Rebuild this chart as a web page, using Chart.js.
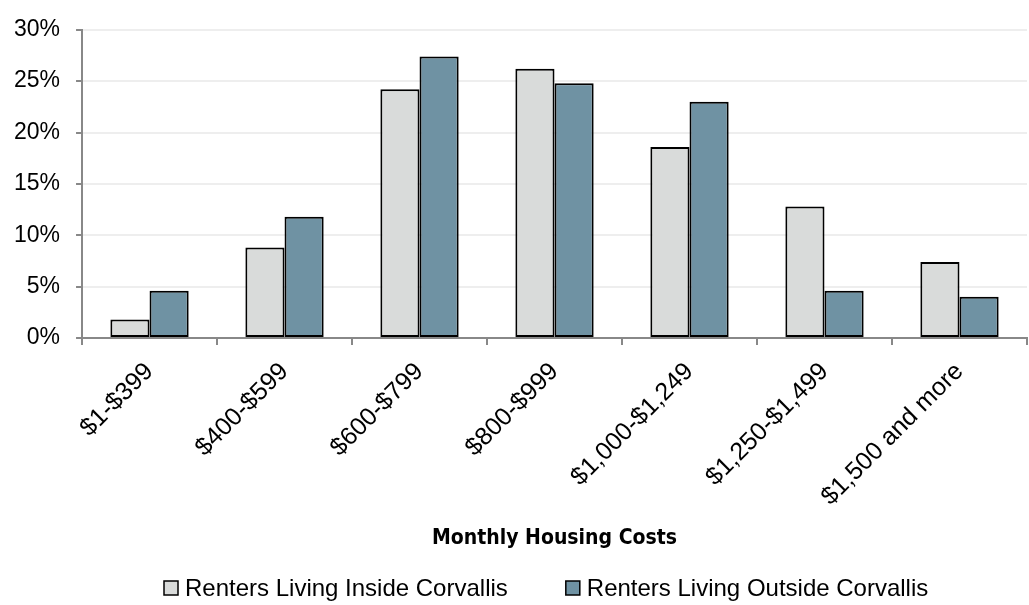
<!DOCTYPE html>
<html>
<head>
<meta charset="utf-8">
<script src="https://cdn.jsdelivr.net/npm/chart.js@4/dist/chart.umd.min.js"></script>
<style>
  html, body { margin: 0; padding: 0; background: #fff; }
  canvas { display: block; }
</style>
</head>
<body>
<canvas id="my-chart" width="1029" height="605"></canvas>
<script>
const categories = ['$1-$399', '$400-$599', '$600-$799', '$800-$999', '$1,000-$1,249', '$1,250-$1,499', '$1,500 and more']
const insideCorvallis = [1.8, 8.8, 24.2, 26.2, 18.6, 12.8, 7.4]
const outsideCorvallis = [4.6, 11.8, 27.4, 24.8, 23.0, 4.6, 4.0]
const seriesNames = ['Renters Living Inside Corvallis', 'Renters Living Outside Corvallis']
const yMin = 0
const yMax = 30
const yStep = 5
const axisTitle = 'Monthly Housing Costs'

const sansFont = '"Liberation Sans", Arial, sans-serif'
const narrowFont = '"DejaVu Sans Condensed", sans-serif'

// legend drawn by hand so the spacing matches the original (box, small gap, wide gap between items)
const bottomLegend = {
  id: 'bottomLegend',
  afterDraw(chart) {
    const ctx = chart.ctx
    ctx.save()
    ctx.font = '24px ' + sansFont
    ctx.textBaseline = 'middle'
    ctx.textAlign = 'left'
    let x = 164
    const y = 588
    chart.data.datasets.forEach((ds) => {
      ctx.fillStyle = ds.backgroundColor
      ctx.fillRect(x, y - 7, 14, 14)
      ctx.strokeStyle = '#000'
      ctx.lineWidth = 1.5
      ctx.strokeRect(x, y - 7, 14, 14)
      ctx.fillStyle = '#000'
      ctx.fillText(ds.label, x + 21, y + 1)
      x += 21 + ctx.measureText(ds.label).width + 58
    })
    ctx.restore()
  }
}

const ctx = document.getElementById('my-chart').getContext('2d')
const chart = new Chart(ctx, {
  type: 'bar',
  data: {
    labels: categories,
    datasets: [
      {
        label: seriesNames[0],
        data: insideCorvallis,
        backgroundColor: '#d9dbda',
        borderColor: '#000',
        borderWidth: 2,
        borderSkipped: false,
        categoryPercentage: 0.58,
        barPercentage: 1.0
      },
      {
        label: seriesNames[1],
        data: outsideCorvallis,
        backgroundColor: '#6f92a3',
        borderColor: '#000',
        borderWidth: 2,
        borderSkipped: false,
        categoryPercentage: 0.58,
        barPercentage: 1.0
      }
    ]
  },
  options: {
    responsive: false,
    devicePixelRatio: 1,
    animation: false,
    layout: {
      padding: { left: -2, right: 2, top: 1, bottom: 54 }
    },
    plugins: {
      legend: { display: false },
      tooltip: { enabled: false }
    },
    scales: {
      x: {
        grid: {
          display: true,
          drawOnChartArea: false,
          drawTicks: true,
          tickLength: 7,
          color: '#888',
          lineWidth: 2
        },
        border: { display: true, color: '#888', width: 2 },
        ticks: {
          color: '#000',
          font: { family: sansFont, size: 25 },
          minRotation: 45,
          maxRotation: 45,
          padding: 12,
          autoSkip: false
        },
        title: {
          display: true,
          text: axisTitle,
          color: '#000',
          font: { family: narrowFont, size: 21, weight: 'bold' },
          padding: { top: 2, bottom: 0 }
        }
      },
      y: {
        min: yMin,
        max: yMax,
        grid: {
          color: '#eeeeee',
          tickColor: '#888',
          lineWidth: 2,
          tickLength: 6
        },
        border: { display: true, color: '#888', width: 2 },
        ticks: {
          stepSize: yStep,
          color: '#000',
          font: { family: sansFont, size: 23 },
          padding: 16,
          callback: (value) => value + '%'
        }
      }
    }
  },
  plugins: [bottomLegend]
})
</script>
</body>
</html>
